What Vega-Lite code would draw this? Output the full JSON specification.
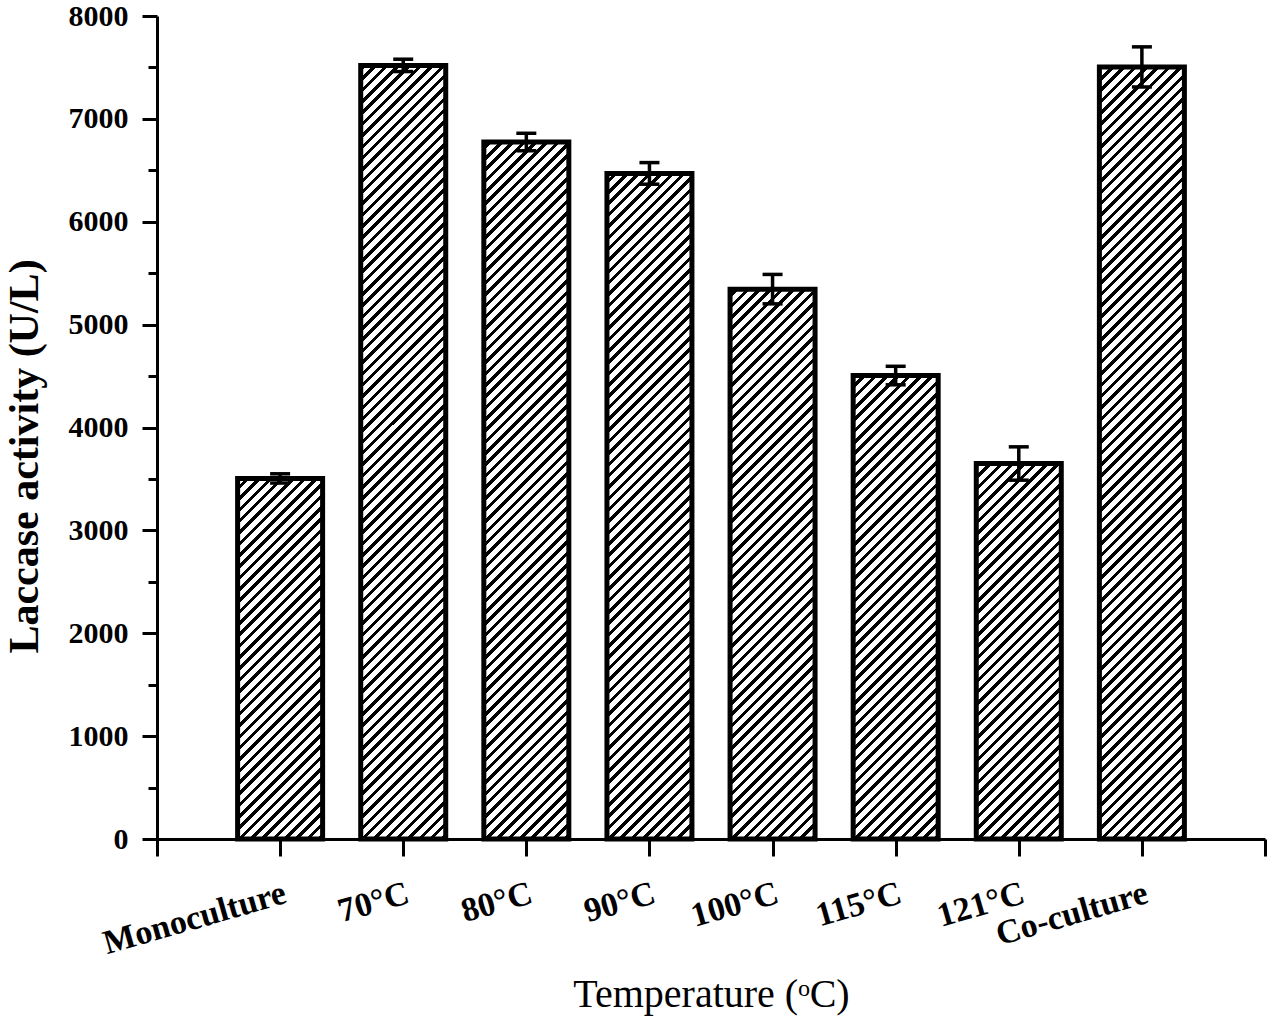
{
  "$schema": "https://vega.github.io/schema/vega-lite/v6.json",
  "width": 1108,
  "height": 823,
  "autosize": "none",
  "padding": {"left": 157, "top": 16, "right": 2, "bottom": 189},
  "background": "white",
  "config": {
    "font": "Liberation Serif",
    "view": {"stroke": null},
    "axis": {
      "grid": false,
      "domainColor": "black",
      "domainWidth": 3,
      "tickColor": "black",
      "tickWidth": 3,
      "labelColor": "black",
      "titleColor": "black",
      "labelFont": "Liberation Serif",
      "titleFont": "Liberation Serif",
      "labelFontWeight": "bold",
      "labelLimit": 0
    }
  },
  "data": {
    "values": [
      {"cond": "Monoculture", "activity": 3505, "err": 45},
      {"cond": "70°C", "activity": 7520, "err": 60},
      {"cond": "80°C", "activity": 6775, "err": 85},
      {"cond": "90°C", "activity": 6470, "err": 105},
      {"cond": "100°C", "activity": 5345, "err": 143},
      {"cond": "115°C", "activity": 4505, "err": 90},
      {"cond": "121°C", "activity": 3650, "err": 162},
      {"cond": "Co-culture", "activity": 7505, "err": 195}
    ]
  },
  "encoding": {
    "x": {
      "field": "cond",
      "type": "nominal",
      "title": "Temperature (ᵒC)",
      "scale": {
        "type": "point",
        "padding": 0,
        "domain": [" ", "Monoculture", "70°C", "80°C", "90°C", "100°C", "115°C", "121°C", "Co-culture", "  "]
      },
      "axis": {
        "tickSize": 17,
        "labelAngle": -16,
        "labelAlign": "right",
        "labelBaseline": "top",
        "labelFontSize": 34,
        "labelPadding": 20,
        "labelLimit": 0,
        "labelOverlap": false,
        "labelBound": false,
        "labelFlush": false,
        "titleFontSize": 40,
        "titleFontWeight": "normal",
        "titleBaseline": "alphabetic",
        "titleY": 167
      }
    }
  },
  "layer": [
    {
      "mark": {
        "type": "bar",
        "width": 85,
        "fill": {
          "gradient": "linear",
          "x1": 0, "y1": 0, "x2": 0.11274, "y2": 1.09161,
          "stops": [
            {"offset": 0.006, "color": "#fff"}, {"offset": 0.006, "color": "#000"}, {"offset": 0.011, "color": "#000"}, {"offset": 0.011, "color": "#fff"},
            {"offset": 0.0185, "color": "#fff"}, {"offset": 0.0185, "color": "#000"}, {"offset": 0.0235, "color": "#000"}, {"offset": 0.0235, "color": "#fff"},
            {"offset": 0.031, "color": "#fff"}, {"offset": 0.031, "color": "#000"}, {"offset": 0.036, "color": "#000"}, {"offset": 0.036, "color": "#fff"},
            {"offset": 0.0435, "color": "#fff"}, {"offset": 0.0435, "color": "#000"}, {"offset": 0.0485, "color": "#000"}, {"offset": 0.0485, "color": "#fff"},
            {"offset": 0.056, "color": "#fff"}, {"offset": 0.056, "color": "#000"}, {"offset": 0.061, "color": "#000"}, {"offset": 0.061, "color": "#fff"},
            {"offset": 0.0685, "color": "#fff"}, {"offset": 0.0685, "color": "#000"}, {"offset": 0.0735, "color": "#000"}, {"offset": 0.0735, "color": "#fff"},
            {"offset": 0.081, "color": "#fff"}, {"offset": 0.081, "color": "#000"}, {"offset": 0.086, "color": "#000"}, {"offset": 0.086, "color": "#fff"},
            {"offset": 0.0935, "color": "#fff"}, {"offset": 0.0935, "color": "#000"}, {"offset": 0.0985, "color": "#000"}, {"offset": 0.0985, "color": "#fff"},
            {"offset": 0.106, "color": "#fff"}, {"offset": 0.106, "color": "#000"}, {"offset": 0.111, "color": "#000"}, {"offset": 0.111, "color": "#fff"},
            {"offset": 0.1185, "color": "#fff"}, {"offset": 0.1185, "color": "#000"}, {"offset": 0.1235, "color": "#000"}, {"offset": 0.1235, "color": "#fff"},
            {"offset": 0.131, "color": "#fff"}, {"offset": 0.131, "color": "#000"}, {"offset": 0.136, "color": "#000"}, {"offset": 0.136, "color": "#fff"},
            {"offset": 0.1435, "color": "#fff"}, {"offset": 0.1435, "color": "#000"}, {"offset": 0.1485, "color": "#000"}, {"offset": 0.1485, "color": "#fff"},
            {"offset": 0.156, "color": "#fff"}, {"offset": 0.156, "color": "#000"}, {"offset": 0.161, "color": "#000"}, {"offset": 0.161, "color": "#fff"},
            {"offset": 0.1685, "color": "#fff"}, {"offset": 0.1685, "color": "#000"}, {"offset": 0.1735, "color": "#000"}, {"offset": 0.1735, "color": "#fff"},
            {"offset": 0.181, "color": "#fff"}, {"offset": 0.181, "color": "#000"}, {"offset": 0.186, "color": "#000"}, {"offset": 0.186, "color": "#fff"},
            {"offset": 0.1935, "color": "#fff"}, {"offset": 0.1935, "color": "#000"}, {"offset": 0.1985, "color": "#000"}, {"offset": 0.1985, "color": "#fff"},
            {"offset": 0.206, "color": "#fff"}, {"offset": 0.206, "color": "#000"}, {"offset": 0.211, "color": "#000"}, {"offset": 0.211, "color": "#fff"},
            {"offset": 0.2185, "color": "#fff"}, {"offset": 0.2185, "color": "#000"}, {"offset": 0.2235, "color": "#000"}, {"offset": 0.2235, "color": "#fff"},
            {"offset": 0.231, "color": "#fff"}, {"offset": 0.231, "color": "#000"}, {"offset": 0.236, "color": "#000"}, {"offset": 0.236, "color": "#fff"},
            {"offset": 0.2435, "color": "#fff"}, {"offset": 0.2435, "color": "#000"}, {"offset": 0.2485, "color": "#000"}, {"offset": 0.2485, "color": "#fff"},
            {"offset": 0.256, "color": "#fff"}, {"offset": 0.256, "color": "#000"}, {"offset": 0.261, "color": "#000"}, {"offset": 0.261, "color": "#fff"},
            {"offset": 0.2685, "color": "#fff"}, {"offset": 0.2685, "color": "#000"}, {"offset": 0.2735, "color": "#000"}, {"offset": 0.2735, "color": "#fff"},
            {"offset": 0.281, "color": "#fff"}, {"offset": 0.281, "color": "#000"}, {"offset": 0.286, "color": "#000"}, {"offset": 0.286, "color": "#fff"},
            {"offset": 0.2935, "color": "#fff"}, {"offset": 0.2935, "color": "#000"}, {"offset": 0.2985, "color": "#000"}, {"offset": 0.2985, "color": "#fff"},
            {"offset": 0.306, "color": "#fff"}, {"offset": 0.306, "color": "#000"}, {"offset": 0.311, "color": "#000"}, {"offset": 0.311, "color": "#fff"},
            {"offset": 0.3185, "color": "#fff"}, {"offset": 0.3185, "color": "#000"}, {"offset": 0.3235, "color": "#000"}, {"offset": 0.3235, "color": "#fff"},
            {"offset": 0.331, "color": "#fff"}, {"offset": 0.331, "color": "#000"}, {"offset": 0.336, "color": "#000"}, {"offset": 0.336, "color": "#fff"},
            {"offset": 0.3435, "color": "#fff"}, {"offset": 0.3435, "color": "#000"}, {"offset": 0.3485, "color": "#000"}, {"offset": 0.3485, "color": "#fff"},
            {"offset": 0.356, "color": "#fff"}, {"offset": 0.356, "color": "#000"}, {"offset": 0.361, "color": "#000"}, {"offset": 0.361, "color": "#fff"},
            {"offset": 0.3685, "color": "#fff"}, {"offset": 0.3685, "color": "#000"}, {"offset": 0.3735, "color": "#000"}, {"offset": 0.3735, "color": "#fff"},
            {"offset": 0.381, "color": "#fff"}, {"offset": 0.381, "color": "#000"}, {"offset": 0.386, "color": "#000"}, {"offset": 0.386, "color": "#fff"},
            {"offset": 0.3935, "color": "#fff"}, {"offset": 0.3935, "color": "#000"}, {"offset": 0.3985, "color": "#000"}, {"offset": 0.3985, "color": "#fff"},
            {"offset": 0.406, "color": "#fff"}, {"offset": 0.406, "color": "#000"}, {"offset": 0.411, "color": "#000"}, {"offset": 0.411, "color": "#fff"},
            {"offset": 0.4185, "color": "#fff"}, {"offset": 0.4185, "color": "#000"}, {"offset": 0.4235, "color": "#000"}, {"offset": 0.4235, "color": "#fff"},
            {"offset": 0.431, "color": "#fff"}, {"offset": 0.431, "color": "#000"}, {"offset": 0.436, "color": "#000"}, {"offset": 0.436, "color": "#fff"},
            {"offset": 0.4435, "color": "#fff"}, {"offset": 0.4435, "color": "#000"}, {"offset": 0.4485, "color": "#000"}, {"offset": 0.4485, "color": "#fff"},
            {"offset": 0.456, "color": "#fff"}, {"offset": 0.456, "color": "#000"}, {"offset": 0.461, "color": "#000"}, {"offset": 0.461, "color": "#fff"},
            {"offset": 0.4685, "color": "#fff"}, {"offset": 0.4685, "color": "#000"}, {"offset": 0.4735, "color": "#000"}, {"offset": 0.4735, "color": "#fff"},
            {"offset": 0.481, "color": "#fff"}, {"offset": 0.481, "color": "#000"}, {"offset": 0.486, "color": "#000"}, {"offset": 0.486, "color": "#fff"},
            {"offset": 0.4935, "color": "#fff"}, {"offset": 0.4935, "color": "#000"}, {"offset": 0.4985, "color": "#000"}, {"offset": 0.4985, "color": "#fff"},
            {"offset": 0.506, "color": "#fff"}, {"offset": 0.506, "color": "#000"}, {"offset": 0.511, "color": "#000"}, {"offset": 0.511, "color": "#fff"},
            {"offset": 0.5185, "color": "#fff"}, {"offset": 0.5185, "color": "#000"}, {"offset": 0.5235, "color": "#000"}, {"offset": 0.5235, "color": "#fff"},
            {"offset": 0.531, "color": "#fff"}, {"offset": 0.531, "color": "#000"}, {"offset": 0.536, "color": "#000"}, {"offset": 0.536, "color": "#fff"},
            {"offset": 0.5435, "color": "#fff"}, {"offset": 0.5435, "color": "#000"}, {"offset": 0.5485, "color": "#000"}, {"offset": 0.5485, "color": "#fff"},
            {"offset": 0.556, "color": "#fff"}, {"offset": 0.556, "color": "#000"}, {"offset": 0.561, "color": "#000"}, {"offset": 0.561, "color": "#fff"},
            {"offset": 0.5685, "color": "#fff"}, {"offset": 0.5685, "color": "#000"}, {"offset": 0.5735, "color": "#000"}, {"offset": 0.5735, "color": "#fff"},
            {"offset": 0.581, "color": "#fff"}, {"offset": 0.581, "color": "#000"}, {"offset": 0.586, "color": "#000"}, {"offset": 0.586, "color": "#fff"},
            {"offset": 0.5935, "color": "#fff"}, {"offset": 0.5935, "color": "#000"}, {"offset": 0.5985, "color": "#000"}, {"offset": 0.5985, "color": "#fff"},
            {"offset": 0.606, "color": "#fff"}, {"offset": 0.606, "color": "#000"}, {"offset": 0.611, "color": "#000"}, {"offset": 0.611, "color": "#fff"},
            {"offset": 0.6185, "color": "#fff"}, {"offset": 0.6185, "color": "#000"}, {"offset": 0.6235, "color": "#000"}, {"offset": 0.6235, "color": "#fff"},
            {"offset": 0.631, "color": "#fff"}, {"offset": 0.631, "color": "#000"}, {"offset": 0.636, "color": "#000"}, {"offset": 0.636, "color": "#fff"},
            {"offset": 0.6435, "color": "#fff"}, {"offset": 0.6435, "color": "#000"}, {"offset": 0.6485, "color": "#000"}, {"offset": 0.6485, "color": "#fff"},
            {"offset": 0.656, "color": "#fff"}, {"offset": 0.656, "color": "#000"}, {"offset": 0.661, "color": "#000"}, {"offset": 0.661, "color": "#fff"},
            {"offset": 0.6685, "color": "#fff"}, {"offset": 0.6685, "color": "#000"}, {"offset": 0.6735, "color": "#000"}, {"offset": 0.6735, "color": "#fff"},
            {"offset": 0.681, "color": "#fff"}, {"offset": 0.681, "color": "#000"}, {"offset": 0.686, "color": "#000"}, {"offset": 0.686, "color": "#fff"},
            {"offset": 0.6935, "color": "#fff"}, {"offset": 0.6935, "color": "#000"}, {"offset": 0.6985, "color": "#000"}, {"offset": 0.6985, "color": "#fff"},
            {"offset": 0.706, "color": "#fff"}, {"offset": 0.706, "color": "#000"}, {"offset": 0.711, "color": "#000"}, {"offset": 0.711, "color": "#fff"},
            {"offset": 0.7185, "color": "#fff"}, {"offset": 0.7185, "color": "#000"}, {"offset": 0.7235, "color": "#000"}, {"offset": 0.7235, "color": "#fff"},
            {"offset": 0.731, "color": "#fff"}, {"offset": 0.731, "color": "#000"}, {"offset": 0.736, "color": "#000"}, {"offset": 0.736, "color": "#fff"},
            {"offset": 0.7435, "color": "#fff"}, {"offset": 0.7435, "color": "#000"}, {"offset": 0.7485, "color": "#000"}, {"offset": 0.7485, "color": "#fff"},
            {"offset": 0.756, "color": "#fff"}, {"offset": 0.756, "color": "#000"}, {"offset": 0.761, "color": "#000"}, {"offset": 0.761, "color": "#fff"},
            {"offset": 0.7685, "color": "#fff"}, {"offset": 0.7685, "color": "#000"}, {"offset": 0.7735, "color": "#000"}, {"offset": 0.7735, "color": "#fff"},
            {"offset": 0.781, "color": "#fff"}, {"offset": 0.781, "color": "#000"}, {"offset": 0.786, "color": "#000"}, {"offset": 0.786, "color": "#fff"},
            {"offset": 0.7935, "color": "#fff"}, {"offset": 0.7935, "color": "#000"}, {"offset": 0.7985, "color": "#000"}, {"offset": 0.7985, "color": "#fff"},
            {"offset": 0.806, "color": "#fff"}, {"offset": 0.806, "color": "#000"}, {"offset": 0.811, "color": "#000"}, {"offset": 0.811, "color": "#fff"},
            {"offset": 0.8185, "color": "#fff"}, {"offset": 0.8185, "color": "#000"}, {"offset": 0.8235, "color": "#000"}, {"offset": 0.8235, "color": "#fff"},
            {"offset": 0.831, "color": "#fff"}, {"offset": 0.831, "color": "#000"}, {"offset": 0.836, "color": "#000"}, {"offset": 0.836, "color": "#fff"},
            {"offset": 0.8435, "color": "#fff"}, {"offset": 0.8435, "color": "#000"}, {"offset": 0.8485, "color": "#000"}, {"offset": 0.8485, "color": "#fff"},
            {"offset": 0.856, "color": "#fff"}, {"offset": 0.856, "color": "#000"}, {"offset": 0.861, "color": "#000"}, {"offset": 0.861, "color": "#fff"},
            {"offset": 0.8685, "color": "#fff"}, {"offset": 0.8685, "color": "#000"}, {"offset": 0.8735, "color": "#000"}, {"offset": 0.8735, "color": "#fff"},
            {"offset": 0.881, "color": "#fff"}, {"offset": 0.881, "color": "#000"}, {"offset": 0.886, "color": "#000"}, {"offset": 0.886, "color": "#fff"},
            {"offset": 0.8935, "color": "#fff"}, {"offset": 0.8935, "color": "#000"}, {"offset": 0.8985, "color": "#000"}, {"offset": 0.8985, "color": "#fff"},
            {"offset": 0.906, "color": "#fff"}, {"offset": 0.906, "color": "#000"}, {"offset": 0.911, "color": "#000"}, {"offset": 0.911, "color": "#fff"},
            {"offset": 0.9185, "color": "#fff"}, {"offset": 0.9185, "color": "#000"}, {"offset": 0.9235, "color": "#000"}, {"offset": 0.9235, "color": "#fff"},
            {"offset": 0.931, "color": "#fff"}, {"offset": 0.931, "color": "#000"}, {"offset": 0.936, "color": "#000"}, {"offset": 0.936, "color": "#fff"},
            {"offset": 0.9435, "color": "#fff"}, {"offset": 0.9435, "color": "#000"}, {"offset": 0.9485, "color": "#000"}, {"offset": 0.9485, "color": "#fff"},
            {"offset": 0.956, "color": "#fff"}, {"offset": 0.956, "color": "#000"}, {"offset": 0.961, "color": "#000"}, {"offset": 0.961, "color": "#fff"},
            {"offset": 0.9685, "color": "#fff"}, {"offset": 0.9685, "color": "#000"}, {"offset": 0.9735, "color": "#000"}, {"offset": 0.9735, "color": "#fff"},
            {"offset": 0.981, "color": "#fff"}, {"offset": 0.981, "color": "#000"}, {"offset": 0.986, "color": "#000"}, {"offset": 0.986, "color": "#fff"},
            {"offset": 0.9935, "color": "#fff"}, {"offset": 0.9935, "color": "#000"}, {"offset": 0.9985, "color": "#000"}, {"offset": 0.9985, "color": "#fff"}
          ]
        }
      },
      "encoding": {
        "y": {
          "datum": 0,
          "type": "quantitative",
          "title": "Laccase activity (U/L)",
          "scale": {"domain": [0, 8000], "nice": false},
          "axis": {
            "values": [0, 500, 1000, 1500, 2000, 2500, 3000, 3500, 4000, 4500, 5000, 5500, 6000, 6500, 7000, 7500, 8000],
            "format": "d",
            "labelExpr": "datum.value % 1000 === 0 ? datum.label : ''",
            "tickSize": {"condition": {"test": "datum.value % 1000 !== 0", "value": 9}, "value": 15},
            "labelFontSize": 30,
            "labelPadding": 14,
            "titleFontSize": 42,
            "titleFontWeight": "bold",
            "titleBaseline": "alphabetic",
            "titleX": -120,
            "titleY": 440
          }
        },
        "y2": {"datum": 8000}
      }
    },
    {
      "mark": {"type": "bar", "width": 89, "fill": "white"},
      "encoding": {
        "y": {"field": "activity", "type": "quantitative", "title": "Laccase activity (U/L)"},
        "y2": {"datum": 8000}
      }
    },
    {
      "mark": {"type": "bar", "width": 85, "fill": "white", "fillOpacity": 0, "stroke": "black", "strokeWidth": 5},
      "encoding": {
        "y": {"field": "activity", "type": "quantitative", "title": "Laccase activity (U/L)", "stack": null}
      }
    },
    {
      "mark": {
        "type": "errorbar",
        "color": "black",
        "opacity": 1,
        "ticks": {"color": "black", "thickness": 3.5, "size": 20, "opacity": 1},
        "rule": {"color": "black", "strokeWidth": 3.5, "opacity": 1}
      },
      "encoding": {
        "y": {"field": "activity", "type": "quantitative", "title": "Laccase activity (U/L)"},
        "yError": {"field": "err"}
      }
    }
  ]
}
